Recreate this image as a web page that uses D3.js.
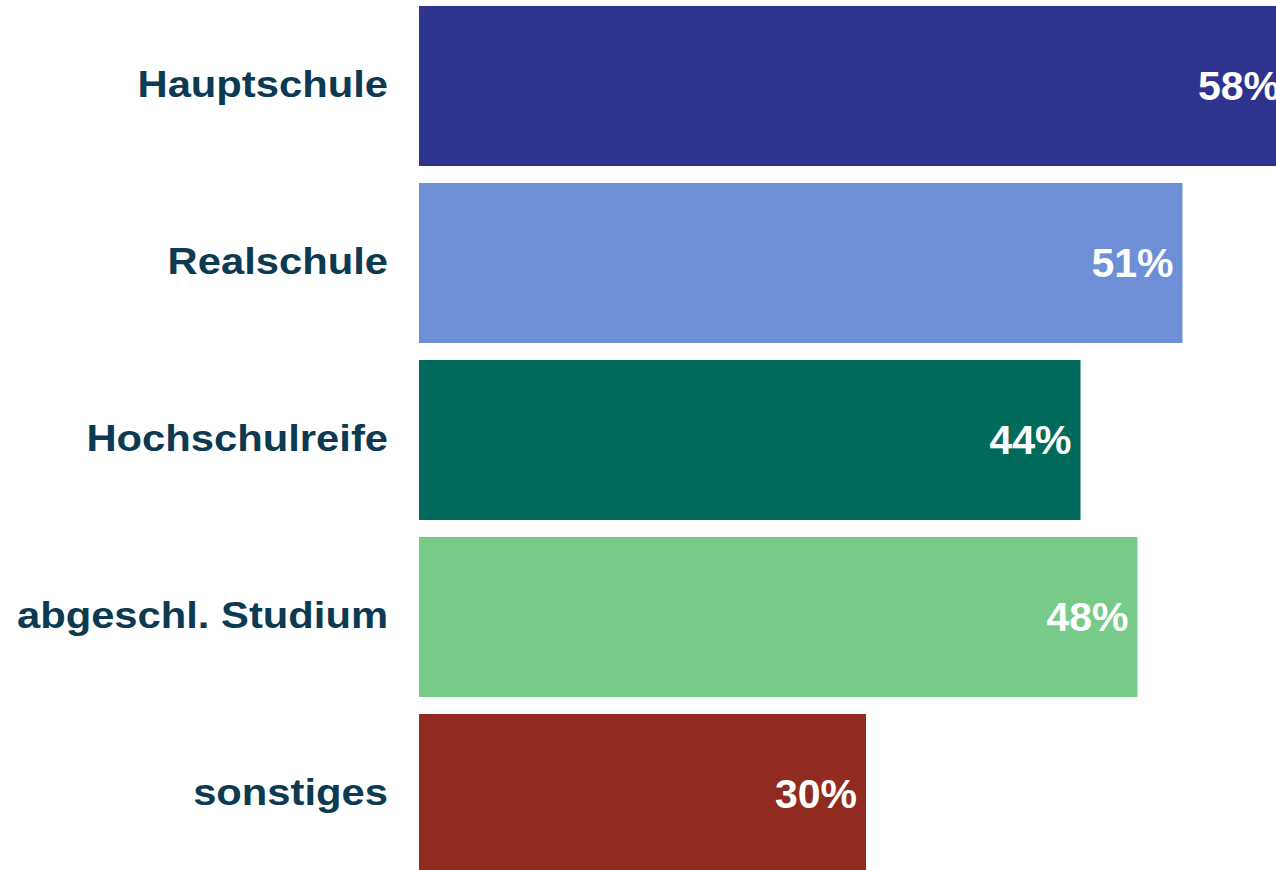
<!DOCTYPE html>
<html>
<head>
<meta charset="utf-8">
<script src="https://cdn.jsdelivr.net/npm/d3@7"></script>
<style>
  html, body { margin: 0; padding: 0; background: #fff; overflow: hidden; }
  svg { display: block; font-family: "Liberation Sans", Arial, sans-serif; }
</style>
</head>
<body>
<svg id="chart" width="1276" height="870"></svg>
<script>
// --- Données ---
const categories = ["Hauptschule", "Realschule", "Hochschulreife", "abgeschl. Studium", "sonstiges"];
const values = [58, 50.9, 44.1, 47.9, 29.8];
const valueLabels = ["58%", "51%", "44%", "48%", "30%"];
const barColors = ["#2e348e", "#6c8fd6", "#006b5b", "#77ca88", "#922b1f"];

const svg = d3.select("#chart");
const data = categories.map((c, i) => ({ cat: c, value: values[i], label: valueLabels[i], color: barColors[i] }));

// --- Échelles ---
const x = d3.scaleLinear().domain([0, 100]).range([419, 1919]);
const y = d3.scaleBand()
    .domain(categories)
    .range([6, 874])
    .paddingInner(0.096)
    .paddingOuter(0);

// --- Barres ---
svg.append("g")
    .selectAll("rect")
    .data(data)
    .enter()
    .append("rect")
    .attr("x", x(0))
    .attr("y", d => y(d.cat))
    .attr("width", d => x(d.value) - x(0))
    .attr("height", y.bandwidth())
    .attr("fill", d => d.color);

// --- Étiquettes de catégories (police un peu élargie comme dans l'original) ---
svg.append("g")
    .selectAll("text")
    .data(data)
    .enter()
    .append("text")
    .attr("transform", d => `translate(388,${y(d.cat) + y.bandwidth() / 2}) scale(1.16,1)`)
    .attr("dy", "0.3em")
    .attr("text-anchor", "end")
    .attr("font-size", 36)
    .attr("font-weight", "bold")
    .attr("fill", "#0b3a52")
    .text(d => d.cat);

// --- Valeurs ---
svg.append("g")
    .selectAll("text")
    .data(data)
    .enter()
    .append("text")
    .attr("x", d => x(d.value) - 9)
    .attr("y", d => y(d.cat) + y.bandwidth() / 2)
    .attr("dy", "0.35em")
    .attr("text-anchor", "end")
    .attr("font-size", 41)
    .attr("font-weight", "bold")
    .attr("fill", "#ffffff")
    .text(d => d.label);
</script>
</body>
</html>
